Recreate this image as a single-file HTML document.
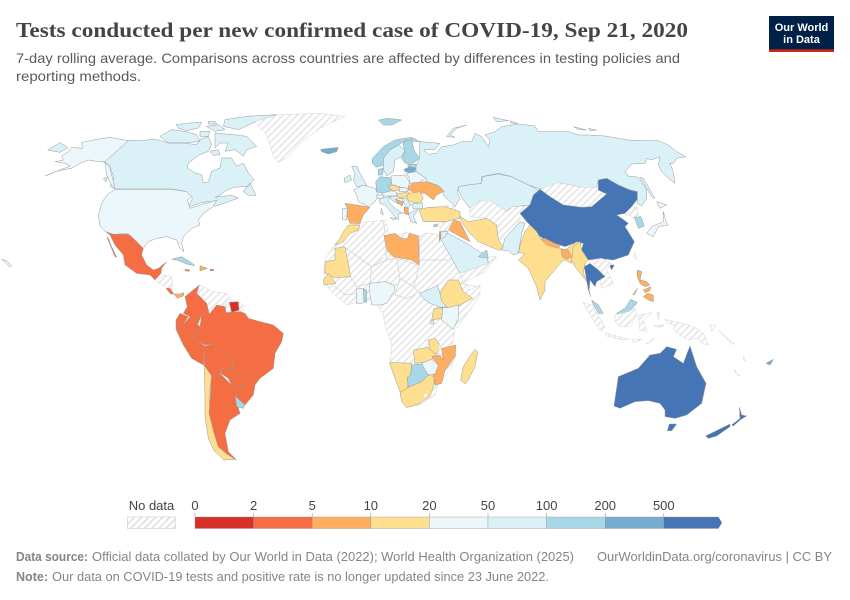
<!DOCTYPE html>
<html lang="en">
<head>
<meta charset="utf-8">
<title>Tests conducted per new confirmed case of COVID-19</title>
<style>
html,body{margin:0;padding:0;background:#fff;width:850px;height:600px;overflow:hidden}
svg{display:block}
text{font-family:"Liberation Sans",sans-serif}
.c{stroke:#9a9a9a;stroke-width:.5;vector-effect:non-scaling-stroke;stroke-linejoin:round;fill:#eee}
.c.nodata{stroke:#d4d4d4}
</style>
</head>
<body>
<svg id="chart" xmlns="http://www.w3.org/2000/svg" width="850" height="600" viewBox="0 0 850 600">
<defs>
<pattern id="hatch" width="15" height="15" patternUnits="userSpaceOnUse" patternTransform="rotate(45)"><rect width="15" height="15" fill="#fff"/><rect width="5" height="15" fill="#e6e6e6"/></pattern>
<pattern id="hatch-legend" width="5" height="5" patternUnits="userSpaceOnUse" patternTransform="rotate(45)"><rect width="5" height="5" fill="#fff"/><rect width="1.7" height="5" fill="#e0e0e0"/></pattern>
</defs>

<text x="16" y="37" font-size="21" font-weight="bold" fill="#444" textLength="672" lengthAdjust="spacingAndGlyphs" style="font-family:'Liberation Serif',serif">Tests conducted per new confirmed case of COVID-19, Sep 21, 2020</text>
<text x="16" y="63" font-size="14" fill="#5b5b5b" textLength="664" lengthAdjust="spacingAndGlyphs">7-day rolling average. Comparisons across countries are affected by differences in testing policies and</text>
<text x="16" y="81" font-size="14" fill="#5b5b5b" textLength="125" lengthAdjust="spacingAndGlyphs">reporting methods.</text>

<g>
<rect x="769" y="16" width="65" height="36" fill="#002147"/>
<rect x="769" y="49.4" width="65" height="2.6" fill="#ce261e"/>
<text x="801.5" y="31" font-size="11" font-weight="bold" fill="#fff" text-anchor="middle">Our World</text>
<text x="801.5" y="43" font-size="11" font-weight="bold" fill="#fff" text-anchor="middle">in Data</text>
</g>

<g id="map">

<g transform="translate(100,108) scale(.33333)">
<path class="c" data-country="canada" d="M82,97 130,98 155,93 180,97 205,105 250,105 290,110 300,95 325,85 335,110 325,130 300,140 265,165 262,180 285,195 305,200 310,225 325,222 335,190 360,180 365,150 395,150 410,175 430,165 445,195 462,215 445,235 400,238 375,250 360,262 345,268 395,262 415,270 375,285 345,295 330,280 300,285 265,298 278,270 255,250 215,243 45,243 30,235 42,210 28,170 10,162ZM345,75 400,80 440,85 470,115 440,125 430,145 405,125 375,130 385,105 360,105 345,120ZM330,130 355,125 360,140 340,142ZM180,85 215,65 255,70 290,80 300,100 255,105 205,105ZM228,50 270,45 305,42 295,60 260,68 235,60ZM300,70 330,70 325,85 300,85ZM320,55 355,50 375,65 345,70ZM325,40 345,40 350,48 325,48ZM375,35 440,25 530,20 470,40 415,65 370,55ZM430,250 450,225 468,262 445,262ZM10,212 22,207 18,222Z"/>
</g>

<g transform="translate(0,100) scale(.33333)">
<path class="c" data-country="africa" d="M972,504 978,474 1002,435 1035,405 1056,375 1095,366 1155,360 1164,396 1176,411 1224,396 1254,414 1275,399 1335,405 1356,465 1386,534 1410,570 1440,555 1440,585 1410,630 1365,690 1356,735 1368,765 1350,810 1314,855 1305,885 1260,915 1221,921 1206,885 1194,840 1170,780 1176,735 1155,675 1149,639 1119,600 1095,600 1041,615 1005,585 990,570 972,540Z"/>
<path class="c" data-country="greenland" d="M765,65 830,45 900,42 960,40 1035,50 1000,65 960,85 905,125 865,170 835,188 820,170 812,140 800,105 780,85Z"/>
<path class="c" data-country="usa" d="M385,122 330,112 290,118 245,127 247,145 215,142 205,155 185,168 190,180 165,185 195,190 210,198 135,228 175,212 215,205 240,190 265,180 295,185 315,185 330,205 345,265 335,255 320,225 315,185Z"/>
<path class="c" data-country="russia" d="M143,150 180,128 205,143 180,157Z"/>
<path class="c" data-country="usa" d="M345,268 515,268 560,275 575,290 562,300 570,325 600,315 635,305 650,300 640,320 610,340 595,360 600,375 575,385 550,410 545,430 552,455 540,445 530,420 500,410 470,415 445,425 430,445 405,420 385,400 340,403 317,395 300,378 295,345 305,310 320,285ZM5,478 20,482 35,497 30,502 18,488Z"/>
<path class="c" data-country="mexico" d="M317,395 340,403 385,403 405,420 430,445 425,465 440,495 460,510 475,505 500,485 485,505 483,520 465,540 450,525 410,520 375,495 370,465 345,435 330,405ZM320,410 345,470 350,472 335,440 325,415Z"/>
<path class="c" data-country="cuba" d="M515,478 545,470 570,485 585,497 560,492 530,480Z"/>
<path class="c" data-country="dominican" d="M600,497 622,505 600,513Z"/>
<path class="c" data-country="jamaica" d="M555,508 570,510 565,514 555,512ZM630,508 642,508 640,512 630,512Z"/>
<path class="c" data-country="iceland" d="M962,148 1015,142 1010,155 985,162 965,155Z"/>
<path class="c" data-country="svalbard" d="M1135,60 1165,55 1205,60 1175,75 1150,75Z"/>
<path class="c" data-country="morocco" d="M1045,375 1080,375 1075,390 1050,400 1030,425 1005,435 1020,415 1030,395Z"/>
<path class="c" data-country="mauritania" d="M1005,445 1035,440 1052,530 1005,533 975,520 975,485 1005,480Z"/>
<path class="c" data-country="senegal" d="M970,540 985,520 1008,550 972,555Z"/>
<path class="c" data-country="libya" d="M1152,407 1185,400 1205,415 1222,417 1228,400 1255,407 1258,495 1235,480 1180,470 1160,450Z"/>
</g>

<g transform="translate(320,215) scale(.33333)" fill="none" stroke="#d0d0d0" stroke-width=".7" style="vector-effect:non-scaling-stroke">
<path vector-effect="non-scaling-stroke" d="M72,95 155,155 200,135 195,105M155,155 150,205 110,215 92,185M200,135 230,130 240,190 225,240M230,130 295,150 290,185 280,215 300,235M298,135 385,135M150,205 155,225M225,240 260,250 285,240M280,215 240,190M45,215 75,240 110,235M420,205 470,215M300,60 298,135M190,130 155,155M195,50 190,20"/>
</g>

<g transform="translate(100,270) scale(.33333)">
<path class="c" data-country="centralam" d="M170,35 190,15 215,20 218,55 195,50Z"/>
<path class="c" data-country="costarica" d="M198,55 210,55 222,72 212,72Z"/>
<path class="c" data-country="panama" d="M222,72 238,72 252,68 250,78 232,85Z"/>
<path class="c" data-country="venezuela" d="M288,55 300,45 340,65 380,70 395,95 375,105 350,105 330,135 320,100 290,70Z"/>
<path class="c" data-country="guyana" d="M375,105 388,97 395,127 378,128Z"/>
<path class="c" data-country="suriname" d="M388,97 415,95 418,120 395,127Z"/>
<path class="c" data-country="frenchguiana" d="M416,97 435,110 425,125 418,122Z"/>
<path class="c" data-country="colombia" d="M255,80 298,45 290,70 320,100 328,135 305,135 290,170 270,140 250,130 262,110Z"/>
<path class="c" data-country="brazil" d="M305,135 330,130 350,105 375,110 378,128 420,125 435,130 445,145 480,155 520,165 550,190 545,215 525,250 520,295 480,325 465,345 460,375 435,405 405,378 430,345 415,320 395,300 398,270 375,255 340,220 315,225 290,215 282,195 300,170Z"/>
<path class="c" data-country="ecuador" d="M228,150 240,130 265,140 245,170 228,178Z"/>
<path class="c" data-country="peru" d="M228,178 245,170 270,140 300,170 282,195 290,215 315,228 310,285 275,265 250,225Z"/>
<path class="c" data-country="bolivia" d="M315,228 340,220 375,255 398,270 395,298 362,300 360,315 335,318 312,285Z"/>
<path class="c" data-country="paraguay" d="M365,295 395,298 415,320 430,345 415,355 395,345 385,325 362,310Z"/>
<path class="c" data-country="chile" d="M312,285 335,318 327,380 332,440 342,490 355,530 378,550 405,568 372,570 342,542 325,505 315,440 315,380Z"/>
<path class="c" data-country="argentina" d="M335,318 362,312 395,345 415,355 430,345 405,380 420,430 390,450 375,490 385,545 410,570 378,550 355,530 340,480 327,430Z"/>
<path class="c" data-country="uruguay" d="M405,378 435,405 430,415 410,410Z"/>
</g>

<g transform="translate(320,270) scale(.33333)">
<path class="c" data-country="ghana" d="M108,57 130,55 132,98 110,102Z"/>
<path class="c" data-country="togo" d="M130,57 140,60 140,97 133,95Z"/>
<path class="c" data-country="nigeria" d="M148,40 195,35 222,45 225,60 200,100 180,105 155,105 150,75Z"/>
<path class="c" data-country="southsudan" d="M298,70 335,55 352,45 360,70 385,110 360,112 330,100 310,85Z"/>
<path class="c" data-country="ethiopia" d="M360,70 385,30 415,30 430,65 458,85 420,105 385,115 365,95Z"/>
<path class="c" data-country="uganda" d="M342,115 368,113 365,145 335,150Z"/>
<path class="c" data-country="kenya" d="M368,113 385,113 415,105 415,145 400,178 365,150Z"/>
<path class="c" data-country="rwanda" d="M332,152 342,152 340,162 332,162Z"/>
<path class="c" data-country="zambia" d="M280,240 325,232 330,238 350,250 335,270 308,278 285,280Z"/>
<path class="c" data-country="tanzaniastrip" d="M325,210 345,205 358,222 358,250 345,250 330,238Z"/>
<path class="c" data-country="malawi" d="M358,220 370,250 365,270 355,255Z"/>
<path class="c" data-country="mozambique" d="M365,235 408,225 405,260 375,300 365,340 345,345 340,315 355,285 335,260 358,255 370,270Z"/>
<path class="c" data-country="zimbabwe" d="M305,280 335,268 355,285 345,312 320,315Z"/>
<path class="c" data-country="botswana" d="M275,285 305,282 325,315 305,335 285,345 265,352 262,320 272,315Z"/>
<path class="c" data-country="namibia" d="M208,277 275,280 272,315 262,322 265,368 240,365 225,325Z"/>
<path class="c" data-country="southafrica" d="M240,368 265,352 305,335 325,315 342,320 342,345 330,380 300,400 260,413 245,395Z"/>
<path class="c" data-country="lesotho" d="M308,375 322,368 320,380 312,383Z"/>
<path class="c" data-country="madagascar" d="M465,238 473,245 465,290 445,330 435,342 422,330 430,290 445,265Z"/>
</g>

<g transform="translate(425,100) scale(.33333)">
<path class="c" data-country="russia" d="M-15,125 45,130 30,148 -3,150 10,163 35,160 50,140 85,135 110,125 140,125 150,100 170,110 190,140 195,120 180,105 210,95 230,80 280,72 330,78 340,95 400,95 430,95 460,105 490,105 540,108 610,120 660,122 700,122 730,135 755,155 782,170 755,175 745,190 735,190 745,215 750,250 730,235 710,215 700,195 705,170 680,180 665,175 660,190 620,192 600,215 610,228 640,232 665,270 665,295 650,318 637,310 637,275 615,270 580,255 545,235 520,240 515,262 470,262 400,248 365,268 340,265 310,255 260,230 220,220 170,230 170,250 130,255 100,260 97,280 105,295 90,320 55,285 57,272 35,255 5,245 3,235 -27,215 -27,200 -17,175ZM65,110 85,85 125,75 95,85 75,105 90,112ZM205,52 250,62 215,65ZM255,62 278,70 258,70ZM445,80 485,90 460,88ZM490,85 515,90 495,92ZM645,232 655,235 690,295 680,290Z"/>
<path class="c" data-country="kazakhstan" d="M100,270 115,300 135,325 165,300 200,310 240,335 265,320 320,315 340,270 310,255 260,230 220,222 172,230 170,250 130,255 100,260Z"/>
<path class="c" data-country="centralasia" d="M165,300 200,305 245,335 265,320 315,318 285,345 285,365 240,415 215,420 215,375 185,355 135,350 135,325Z"/>
<path class="c" data-country="caucasus" d="M60,315 90,320 97,345 70,335Z"/>
<path class="c" data-country="pakistan" d="M230,450 240,415 285,365 300,370 290,400 280,460 265,465 250,452Z"/>
<path class="c" data-country="mongolia" d="M345,268 400,248 470,262 515,262 520,270 545,282 500,320 470,322 415,315 375,290Z"/>
<path class="c" data-country="china" d="M285,340 315,315 325,285 345,268 375,290 415,315 470,322 500,320 545,282 520,270 520,240 545,235 580,255 615,270 637,275 637,298 620,320 600,340 575,345 590,355 610,370 600,380 628,425 610,465 565,480 525,475 490,480 470,450 475,430 460,425 420,440 375,425 345,410 335,395 315,375 305,365ZM553,495 568,495 560,510Z"/>
<path class="c" data-country="northkorea" d="M600,345 635,320 640,345 625,355 615,345Z"/>
<path class="c" data-country="southkorea" d="M628,352 648,350 658,378 640,385Z"/>
<path class="c" data-country="japan" d="M665,400 680,380 715,365 715,335 725,370 730,375 700,380 685,410ZM695,305 725,315 705,325Z"/>
<path class="c" data-country="taiwan" d="M630,455 635,478 625,470Z"/>
<path class="c" data-country="iran" d="M100,345 130,365 185,355 215,375 220,420 235,440 225,452 195,440 160,425 130,395 110,365Z"/>
<path class="c" data-country="iraq" d="M85,360 105,365 125,405 135,425 115,415 70,390Z"/>
<path class="c" data-country="saudi" d="M45,415 70,400 125,430 155,450 185,465 190,490 105,520 80,475 60,440Z"/>
<path class="c" data-country="uae" d="M160,470 185,450 190,475Z"/>
<path class="c" data-country="yemenoman" d="M105,520 190,490 195,470 215,470 180,515 115,548Z"/>
<path class="c" data-country="syria" d="M40,370 85,360 70,390 50,398Z"/>
<path class="c" data-country="jordan" d="M48,395 70,395 60,410 47,418Z"/>
<path class="c" data-country="israel" d="M43,395 48,395 43,425Z"/>
<path class="c" data-country="cyprus" d="M25,375 38,372 36,380 26,380Z"/>
<path class="c" data-country="india" d="M315,375 335,395 345,415 375,425 405,445 420,450 455,425 470,430 445,460 440,490 420,480 410,485 360,545 360,570 345,600 335,560 310,505 280,480 300,460 280,458 290,420 300,395Z"/>
<path class="c" data-country="nepal" d="M348,418 360,415 405,438 400,445 365,435Z"/>
<path class="c" data-country="bangladesh" d="M408,448 430,450 440,470 425,478 412,470Z"/>
<path class="c" data-country="myanmar" d="M440,480 445,440 465,425 470,450 490,480 480,490 475,520 488,545 495,565 485,545 470,525 450,500Z"/>
<path class="c" data-country="indochina" d="M500,480 530,475 560,490 545,510 565,550 530,565 520,510Z"/>
<path class="c" data-country="thailand" d="M478,500 495,490 520,510 540,530 515,545 510,560 495,540 492,570 497,590 490,570Z"/>
</g>

<g transform="translate(340,130) scale(.33333)">
<path class="c" data-country="uk" d="M35,110 50,108 60,130 80,165 50,170 40,150 45,130Z"/>
<path class="c" data-country="ireland" d="M12,145 30,135 35,150 15,158Z"/>
<path class="c" data-country="norway" d="M97,85 130,50 165,30 215,22 240,35 195,32 175,45 150,60 130,85 132,105 108,112 97,100Z"/>
<path class="c" data-country="sweden" d="M130,85 150,60 175,45 195,60 185,80 165,90 160,125 140,138 130,118Z"/>
<path class="c" data-country="finland" d="M190,35 215,28 222,60 238,85 220,100 195,100 185,85 195,65 190,45Z"/>
<path class="c" data-country="estonia" d="M203,103 228,103 228,113 205,111Z"/>
<path class="c" data-country="latvia" d="M192,118 210,110 228,115 222,130 195,125Z"/>
<path class="c" data-country="denmark" d="M115,118 130,115 128,135 115,135Z"/>
<path class="c" data-country="france" d="M40,180 70,165 105,175 115,195 105,215 85,230 55,215 50,195Z"/>
<path class="c" data-country="germany" d="M107,155 120,140 150,143 157,180 135,193 110,185Z"/>
<path class="c" data-country="poland" d="M153,138 195,135 208,155 205,175 180,172 155,162Z"/>
<path class="c" data-country="belarus" d="M198,130 228,125 258,145 235,158 210,160 208,145Z"/>
<path class="c" data-country="ukraine" d="M205,170 220,158 260,155 300,170 310,185 290,195 280,210 255,190 230,190 205,180Z"/>
<path class="c" data-country="czechia" d="M145,165 180,170 175,182 155,182Z"/>
<path class="c" data-country="slovakia" d="M178,172 205,175 203,183 178,186Z"/>
<path class="c" data-country="austria" d="M125,190 155,182 172,188 168,198 130,198Z"/>
<path class="c" data-country="hungary" d="M170,192 205,185 205,198 185,203 172,202Z"/>
<path class="c" data-country="romania" d="M205,190 240,185 250,205 240,220 210,215 200,205Z"/>
<path class="c" data-country="bulgaria" d="M215,222 248,218 247,235 220,237Z"/>
<path class="c" data-country="serbia" d="M185,205 200,205 212,225 205,235 195,225Z"/>
<path class="c" data-country="croatia" d="M150,200 168,198 185,205 168,208 175,222 155,210Z"/>
<path class="c" data-country="bosnia" d="M165,208 190,215 187,228 175,220Z"/>
<path class="c" data-country="albania" d="M193,230 205,235 205,255 193,250Z"/>
<path class="c" data-country="greece" d="M205,250 235,238 220,260 230,280 212,275Z"/>
<path class="c" data-country="italy" d="M118,205 150,200 145,215 165,235 190,250 175,252 175,270 165,260 135,225 120,220ZM150,262 170,265 160,270ZM125,235 130,255 122,250Z"/>
<path class="c" data-country="switzerland" d="M110,195 130,195 130,205 112,205Z"/>
<path class="c" data-country="spain" d="M15,220 50,225 90,232 70,255 60,280 30,280 20,255 22,235Z"/>
<path class="c" data-country="portugal" d="M8,235 22,235 20,270 8,270Z"/>
<path class="c" data-country="turkey" d="M237,240 265,232 315,230 360,245 360,265 315,275 250,275Z"/>
</g>

<g transform="translate(560,270) scale(.33333)">
<path class="c" data-country="philippines" d="M232,0 245,5 240,30 260,35 270,45 255,50 240,40 232,20ZM262,70 280,75 280,95 265,90 250,80ZM250,60 272,50 270,62 255,68ZM218,75 232,55 225,72Z"/>
<path class="c" data-country="malaysia" d="M170,130 195,115 212,88 232,98 222,110 205,125 175,135ZM95,90 115,105 130,130 115,130 100,105Z"/>
<path class="c" data-country="indonesia" d="M165,135 205,125 225,115 230,135 210,170 180,170 165,155ZM68,98 95,105 135,170 125,185 105,160ZM135,188 205,208 180,208 140,198ZM235,135 275,128 250,150 260,185 240,180ZM215,210 245,208 222,218ZM258,220 285,205 265,222ZM290,125 300,130 295,150ZM280,168 312,165 300,172Z"/>
<path class="c" data-country="newguinea" d="M315,148 345,155 385,165 410,175 430,190 445,225 425,220 410,205 385,210 360,195 340,180 345,165 325,160ZM450,165 468,165 455,185ZM475,180 525,222 515,222ZM522,298 540,318 530,315ZM550,258 556,272 551,272Z"/>
<path class="c" data-country="australia" d="M162,408 175,320 235,295 270,255 300,250 320,230 350,238 340,260 370,280 390,228 410,290 438,340 425,400 380,435 345,445 315,440 315,420 300,400 265,392 225,395 180,415ZM328,462 350,462 335,482 322,482Z"/>
<path class="c" data-country="newzealand" d="M437,498 510,462 510,470 470,498 445,505ZM515,465 540,445 538,412 545,435 560,438 540,450 520,468Z"/>
<path class="c" data-country="fiji" d="M618,280 640,268 630,285Z"/>
</g>
</g>

<g id="legend"></g>

<text x="16" y="561" font-size="13" font-weight="bold" fill="#858585" textLength="72" lengthAdjust="spacingAndGlyphs">Data source:</text>
<text x="92" y="561" font-size="13" fill="#858585" textLength="482" lengthAdjust="spacingAndGlyphs">Official data collated by Our World in Data (2022); World Health Organization (2025)</text>
<text x="597" y="561" font-size="13" fill="#858585" textLength="235" lengthAdjust="spacingAndGlyphs">OurWorldinData.org/coronavirus | CC BY</text>
<text x="16" y="581" font-size="13" font-weight="bold" fill="#858585" textLength="32" lengthAdjust="spacingAndGlyphs">Note:</text>
<text x="52" y="581" font-size="13" fill="#858585" textLength="497" lengthAdjust="spacingAndGlyphs">Our data on COVID-19 tests and positive rate is no longer updated since 23 June 2022.</text>
</svg>

<script>
// Choropleth data (null = no data)
const countryKeys = ["canada","usa","mexico","cuba","dominican","jamaica","centralam","costarica","panama","greenland","iceland","svalbard",
"colombia","venezuela","guyana","suriname","frenchguiana","brazil","ecuador","peru","bolivia","paraguay","chile","argentina","uruguay",
"africa","morocco","mauritania","senegal","libya","ghana","togo","nigeria","southsudan","ethiopia","uganda","kenya","rwanda","zambia","tanzaniastrip","malawi","mozambique","zimbabwe","botswana","namibia","southafrica","lesotho","madagascar",
"russia","kazakhstan","centralasia","caucasus","pakistan","mongolia","china","northkorea","southkorea","japan","taiwan","iran","iraq","saudi","uae","yemenoman","syria","jordan","israel","cyprus","india","nepal","bangladesh","myanmar","indochina","thailand",
"uk","ireland","norway","sweden","finland","estonia","latvia","denmark","france","germany","poland","belarus","ukraine","czechia","slovakia","austria","hungary","romania","bulgaria","serbia","croatia","bosnia","albania","greece","italy","switzerland","spain","portugal","turkey",
"philippines","malaysia","indonesia","newguinea","australia","newzealand","fiji"];
const testsPerCase = [70,30,3,150,8,3,null,3,7,null,300,150,
3,null,null,1.5,null,3,3,3,3,3,15,3,150,
null,15,15,15,8,30,150,30,70,15,15,30,70,15,15,null,8,30,150,15,15,null,15,
70,70,null,null,70,null,800,null,150,30,null,15,8,70,150,null,null,70,8,150,15,8,8,15,null,800,
70,70,150,70,150,150,300,150,30,150,30,30,8,15,30,30,15,15,70,70,70,8,8,70,70,30,8,30,15,
8,150,null,null,900,900,300];
const legendTicks = [0,2,5,10,20,50,100,200,500];
const binColors = ["#d73027","#f46d43","#fdae61","#fedf8f","#ebf7fa","#d9f1f7","#a8d8e8","#74add1","#4575b4"];
const noDataLabel = "No data";

function colorFor(v){
  if(v===null||v===undefined) return null;
  let idx=0;
  for(let i=0;i<legendTicks.length;i++){ if(v>=legendTicks[i]) idx=i; }
  return binColors[idx];
}
function legendX(i){ return 195+i*58.6; }

document.querySelectorAll('#map path[data-country]').forEach(function(p){
  const k=countryKeys.indexOf(p.getAttribute('data-country'));
  const col=k<0?null:colorFor(testsPerCase[k]);
  if(col){ p.setAttribute('fill',col); p.style.fill=col; }
  else { p.style.fill='url(#hatch)'; p.classList.add('nodata'); }
});

const NS='http://www.w3.org/2000/svg';
const lg=document.getElementById('legend');
function mk(tag,attrs,parent){
  const e=document.createElementNS(NS,tag);
  for(const a in attrs){ e.setAttribute(a,attrs[a]); }
  parent.appendChild(e);
  return e;
}
const ndRect=mk('rect',{x:127.5,y:517,width:48,height:11.5,fill:'url(#hatch-legend)',stroke:'#ccc','stroke-width':.6},lg);


const ndText=mk('text',{x:151.5,y:510,'font-size':13,fill:'#444','text-anchor':'middle'},lg);
ndText.textContent=noDataLabel;



binColors.forEach(function(col,i){
  const x=legendX(i), w=legendX(i+1)-x;
  let seg;
  if(i===binColors.length-1){
    seg=mk('path',{d:'M'+x+',517 H'+(x+w-4)+' L'+(x+w-.5)+',522.7 L'+(x+w-4)+',528.5 H'+x+'Z',fill:col,stroke:'#999','stroke-width':.4},lg);
  } else {
    seg=mk('rect',{x:x,y:517,width:w,height:11.5,fill:col,stroke:'#999','stroke-width':.4},lg);
  }
  
  
});
legendTicks.forEach(function(t,i){
  const x=legendX(i);
  const tick=mk('line',{x1:x,x2:x,y1:513,y2:517,stroke:'#999','stroke-width':.6},lg);
  
  
  const tx=mk('text',{x:x,y:510,'font-size':13,fill:'#444','text-anchor':'middle'},lg);
  tx.textContent=String(t);
  
  
});
</script>
</body>
</html>
